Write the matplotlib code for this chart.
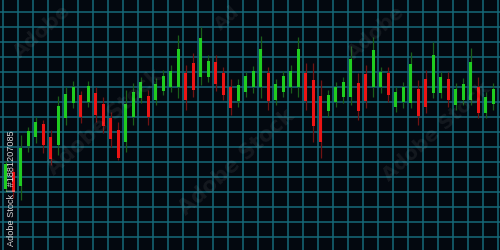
import matplotlib
matplotlib.use('Agg')
import matplotlib.pyplot as plt
import numpy as np

# OHLC values (arbitrary price units)
opens  = [61, 78, 64, 104, 113, 126, 113, 105, 132, 147, 155, 148, 157, 146, 132, 120, 108, 133, 152, 154,
          150, 159, 163, 163, 177, 187, 173, 173, 188, 177, 163, 149, 158, 163, 163, 177, 150, 158, 163, 163,
          177, 170, 154, 139, 148, 153, 153, 167, 176, 163, 163, 177, 143, 148, 147, 161, 171, 157, 157, 171,
          145, 150, 150, 163, 137, 146]
closes = [86, 58, 102, 119, 128, 105, 91, 144, 156, 163, 133, 164, 135, 124, 111, 92, 146, 158, 168, 133,
          166, 174, 179, 201, 150, 160, 212, 189, 166, 155, 142, 165, 174, 179, 201, 149, 166, 174, 179, 201,
          149, 124, 108, 155, 163, 168, 191, 139, 149, 200, 178, 155, 158, 163, 186, 134, 143, 195, 173, 150,
          161, 166, 188, 137, 153, 161]
highs  = [89, 82, 115, 123, 133, 130, 120, 154, 163, 169, 159, 169, 163, 153, 138, 128, 160, 167, 173, 160,
          172, 180, 185, 215, 185, 197, 223, 195, 195, 183, 171, 171, 178, 184, 214, 183, 171, 179, 185, 213,
          187, 187, 170, 160, 168, 173, 204, 177, 185, 213, 183, 183, 163, 168, 198, 170, 180, 208, 178, 178,
          167, 172, 202, 173, 158, 167]
lows   = [58, 52, 50, 98, 107, 97, 85, 95, 125, 142, 127, 143, 128, 117, 103, 90, 98, 125, 147, 125,
          145, 155, 158, 152, 140, 153, 165, 168, 159, 150, 135, 143, 153, 157, 152, 140, 145, 153, 157, 153,
          140, 108, 92, 133, 143, 147, 145, 130, 142, 153, 157, 148, 138, 142, 142, 125, 137, 152, 152, 143,
          140, 145, 145, 132, 132, 140]

BG = '#03080f'
GRID = '#16697a'
UP, DOWN = '#1fcc1f', '#ec1414'
UP_WICK, DOWN_WICK = '#1a5f1a', '#701313'

fig = plt.figure(figsize=(5, 2.5), dpi=100)
fig.patch.set_facecolor(BG)
ax = fig.add_axes([0, 0, 1, 1])
ax.set_facecolor(BG)

o = np.array(opens, dtype=float)
c = np.array(closes, dtype=float)
h = np.array(highs, dtype=float)
l = np.array(lows, dtype=float)
idx = np.arange(len(o))
up = c >= o

ax.set_xlim(-0.76, 65.91)
ax.set_ylim(0, 250)
ax.set_xticks(np.arange(-0.4, 66, 2))
ax.set_yticks(np.arange(13, 250, 15))
ax.grid(True, color=GRID, linewidth=1.1)
ax.set_axisbelow(True)
ax.tick_params(length=0, labelbottom=False, labelleft=False)
for s in ax.spines.values():
    s.set_visible(False)

# faint diagonal watermarks
for (px, py, txt, fs) in [(105, 122, 'Adobe Stock', 15), (237, 162, 'Adobe Stock', 15),
                          (437, 132, 'Adobe Stock', 14), (42, 32, 'Adobe', 14),
                          (227, 18, 'Ad', 13), (376, 33, 'Adobe', 14)]:
    fig.text(px / 500, 1 - py / 250, txt, rotation=42, rotation_mode='anchor',
             ha='center', va='center', fontsize=fs, fontweight='bold', color='white', alpha=0.07)

ax.vlines(idx, l, h, colors=[UP_WICK if u else DOWN_WICK for u in up], linewidth=0.9, zorder=3)
ax.bar(idx, np.abs(c - o), bottom=np.minimum(o, c), width=0.42,
       color=[UP if u else DOWN for u in up], linewidth=0, zorder=4)

fig.text(12 / 500, 1 - 188 / 250, 'Adobe Stock | #1881207085', rotation=90, ha='center', va='center',
         fontsize=6.6, color='#d8d8d8', family=['Liberation Sans Narrow', 'Liberation Sans', 'DejaVu Sans'],
         zorder=10)

fig.savefig('out.png', dpi=100, facecolor=BG)
